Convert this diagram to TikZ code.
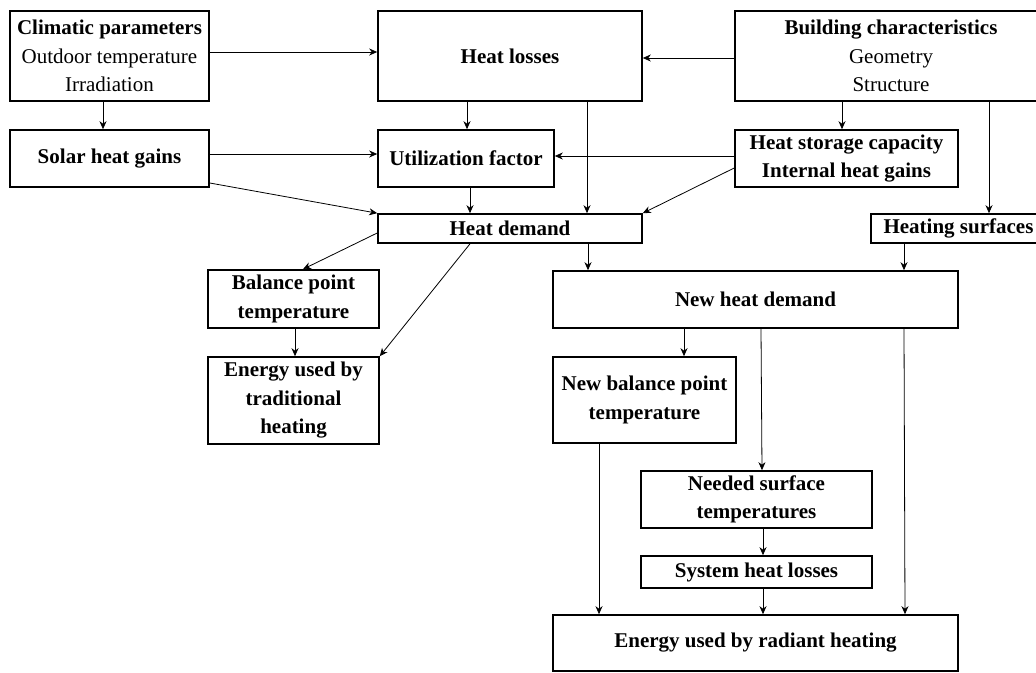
\documentclass[tikz,border=0pt]{standalone}
\usepackage{fontspec}
\setmainfont{Liberation Serif}
\usetikzlibrary{arrows.meta}
\tikzset{
  box/.style={draw, line width=1.6pt, inner sep=0pt, align=center,
    font=\fontsize{21}{28.5}\selectfont\bfseries},
  plainbox/.style={box, font=\fontsize{21}{28.5}\selectfont},
  arr/.style={line width=0.8pt, -{Stealth[length=8pt,width=7pt,inset=2.5pt]}}
}
\begin{document}
\begin{tikzpicture}[x=1pt,y=-1pt]
\useasboundingbox (0,0) rectangle (1036,672);
\clip (0,0) rectangle (1036,672);
\fill[white] (0,0) rectangle (1036,672);
% nodes
\node[plainbox, minimum width=199, minimum height=90] (clim) at (109.5,56)
  {\textbf{Climatic parameters}\\Outdoor temperature\\Irradiation};
\node[box, minimum width=199, minimum height=57] (solar) at (109.5,158.5) {Solar heat gains};
\node[box, minimum width=264, minimum height=90] (hloss) at (510,56) {Heat losses};
\node[plainbox, minimum width=312, minimum height=90] (build) at (891,56)
  {\textbf{Building characteristics}\\Geometry\\Structure};
\node[box, minimum width=176, minimum height=57] (util) at (466,158.5) {Utilization factor};
\node[box, minimum width=223, minimum height=57] (store) at (846.5,158.5)
  {Heat storage capacity\\Internal heat gains};
\node[box, minimum width=264, minimum height=29] (hdem) at (510,228.5) {Heat demand};
\node[box, minimum width=175, minimum height=29] (heats) at (958.5,228.5) {Heating surfaces};
\node[box, minimum width=171, minimum height=58] (bal) at (293.5,299)
  {Balance point\\temperature};
\node[box, minimum width=171, minimum height=87] (trad) at (293.5,400.5)
  {Energy used by\\traditional\\heating};
\node[box, minimum width=405, minimum height=57] (newhd) at (755.5,299.5) {New heat demand};
\node[box, minimum width=183, minimum height=86] (newbal) at (644.5,400)
  {New balance point\\temperature};
\node[box, minimum width=231, minimum height=57] (need) at (756.5,499.5)
  {Needed surface\\temperatures};
\node[box, minimum width=231, minimum height=32] (sys) at (756.5,572) {System heat losses};
\node[box, minimum width=405, minimum height=56] (rad) at (755.5,643)
  {Energy used by radiant heating};
% connectors
\draw[arr] (clim.east |- 0,52) -- (hloss.west |- 0,52);
\draw[arr] (build.west |- 0,58) -- (hloss.east |- 0,58);
\draw[arr] (clim.south -| 103,0) -- (solar.north -| 103,0);
\draw[arr] (solar.east |- 0,154) -- (util.west |- 0,154);
\draw[arr] (store.west |- 0,156) -- (util.east |- 0,156);
\draw[arr] (hloss.south -| 467,0) -- (util.north -| 467,0);
\draw[arr] (util.south -| 470,0) -- (hdem.north -| 470,0);
\draw[arr] (hloss.south -| 587,0) -- (hdem.north -| 587,0);
\draw[arr] (build.south -| 842,0) -- (store.north -| 842,0);
\draw[arr] (build.south -| 989,0) -- (heats.north -| 989,0);
\draw[arr] (solar.east |- 0,183) -- (hdem.north west);
\draw[arr] (store.west |- 0,168) -- (hdem.north east);
\draw[arr] (hdem.west |- 0,233) -- (bal.north -| 303,0);
\draw[arr] (hdem.south -| 470,0) -- (trad.north east);
\draw[arr] (bal.south -| 295,0) -- (trad.north -| 295,0);
\draw[arr] (hdem.south -| 588,0) -- (newhd.north -| 588,0);
\draw[arr] (heats.south -| 904,0) -- (newhd.north -| 904,0);
\draw[arr] (newhd.south -| 684,0) -- (newbal.north -| 684,0);
\draw[arr] (newhd.south -| 761,0) -- (need.north -| 762,0);
\draw[arr] (need.south -| 763,0) -- (sys.north -| 763,0);
\draw[arr] (sys.south -| 763,0) -- (rad.north -| 763,0);
\draw[arr] (newbal.south -| 599,0) -- (rad.north -| 599,0);
\draw[arr] (newhd.south -| 904,0) -- (rad.north -| 905,0);
\end{tikzpicture}
\end{document}
